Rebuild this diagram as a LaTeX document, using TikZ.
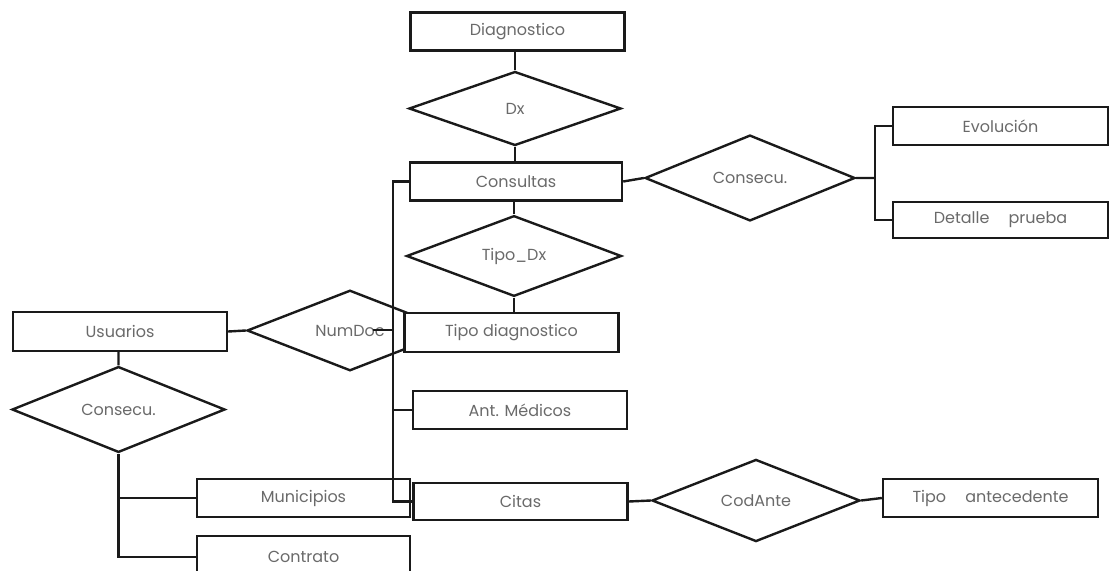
\documentclass[tikz,border=0pt]{standalone}
\usepackage{fontspec}
\setmainfont{Poppins}
\usetikzlibrary{shapes.geometric,positioning,calc}
\definecolor{erline}{HTML}{1A1A1A}
\definecolor{ertext}{HTML}{6A6A6A}
\tikzset{
  ln/.style={line width=2.4pt,erline},
  labeltext/.style={font=\fontsize{16}{18}\selectfont,text=ertext}
}

\begin{document}
\begin{tikzpicture}[x=1pt,y=-1pt,
  ent/.style={draw=erline,fill=white,line width=2.4pt,rectangle,inner sep=0pt,
    minimum width=214pt,minimum height=38pt,labeltext},
  rel/.style={draw=erline,fill=white,line width=2.4pt,diamond,aspect=1,inner sep=0pt,
    minimum width=212pt,minimum height=74pt,labeltext}]
\clip (0,0) rectangle (1110,570);
\fill[white] (0,0) rectangle (1110,570);
% relation in the middle sits under the box
\node[rel,minimum width=206pt,minimum height=75pt] (NumDoc) at (350,330.5) {NumDoc};
\node[ent] (Diag) at (517.5,31.5) {Diagnostico};
\node[rel] (Dx) at (515,108.5) {Dx};
\node[ent,minimum width=212pt] (Cons) at (516,181.5) {Consultas};
\node[rel,minimum width=215pt,minimum height=73pt] (TipoDx) at (514,256) {Tipo\_Dx};
\node[ent,minimum height=39pt] (TDiag) at (511.5,332.5) {Tipo diagnostico};
\node[ent] (AntMed) at (520,410) {Ant. Médicos};
\node[ent,minimum height=37pt] (Citas) at (520.5,501.5) {Citas};
\node[rel,minimum width=210pt] (ConsR) at (750,178) {Consecu.};
\node[ent,minimum width=215pt] (Evol) at (1000.5,126) {Evolución};
\node[ent,minimum width=215pt,minimum height=36pt] (Det) at (1000.5,220) {Detalle\hspace{1.2em}prueba};
\node[ent,minimum height=39pt] (Usu) at (120,331.5) {Usuarios};
\node[rel,minimum width=213pt,minimum height=73pt] (ConsL) at (118.5,409.5) {Consecu.};
\node[ent,minimum width=213pt] (Muni) at (303.5,498) {Municipios};
\node[ent,minimum width=213pt,minimum height=42pt] (Contr) at (303.5,557) {Contrato};
\node[rel,minimum width=208pt,minimum height=75pt] (CodAnte) at (756,500.5) {CodAnte};
\node[ent,minimum width=215pt] (TAnt) at (990.5,498) {Tipo\hspace{1.2em}antecedente};
% junctions
\coordinate (jr) at (875,178);
\coordinate (bus) at (393,501.5);
\coordinate (ndt) at (373,330);
\draw[ln] (Dx.north)--(Dx.north |- Diag.south) (Dx.south)--(Dx.south |- Cons.north)
  (TipoDx.north)--(TipoDx.north |- Cons.south) (TipoDx.south)--(TipoDx.south |- TDiag.north);
\draw[ln] (Cons.east)--(ConsR.west) (ConsR.east)--(jr);
\draw[ln] (jr) |- (Evol.west) (jr) |- (Det.west);
\draw[ln] (Cons.west) -| (bus) -- (Citas.west);
\draw[ln] (AntMed.west) -- (AntMed.west -| bus);
\draw[ln] (ndt) -- (ndt -| bus);
\draw[ln] (Usu.east)--(NumDoc.west) (ConsL.north)--(ConsL.north |- Usu.south);
\draw[ln] (ConsL.south) |- (Muni.west) (ConsL.south) |- (Contr.west);
\draw[ln] (Citas.east)--(CodAnte.west) (CodAnte.east)--(TAnt.west);
\end{tikzpicture}
\end{document}
